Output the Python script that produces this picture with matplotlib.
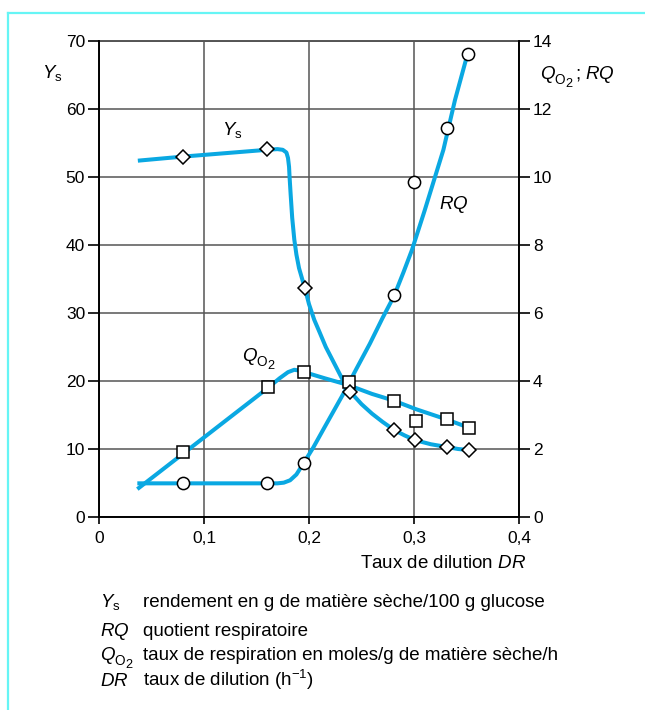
import matplotlib
matplotlib.use("Agg")
import matplotlib.pyplot as plt
from matplotlib.lines import Line2D
from matplotlib.transforms import offset_copy

plt.rcParams['font.family'] = ['Liberation Sans', 'DejaVu Sans']
plt.rcParams['mathtext.fontset'] = 'custom'
plt.rcParams['mathtext.rm'] = 'Liberation Sans'
plt.rcParams['mathtext.it'] = 'Liberation Sans:italic'
plt.rcParams['mathtext.bf'] = 'Liberation Sans:bold'

# ---------------- data ----------------
x_ticks = [0, 0.1, 0.2, 0.3, 0.4]
x_tick_labels = ['0', '0,1', '0,2', '0,3', '0,4']
left_ticks = [0, 10, 20, 30, 40, 50, 60, 70]
right_ticks = [0, 2, 4, 6, 8, 10, 12, 14]

# Ys measured points (left axis)
ys_pts_x = [0.08, 0.16, 0.196, 0.239, 0.281, 0.301, 0.331, 0.352]
ys_pts_y = [53.0, 54.1, 33.7, 18.4, 12.8, 11.3, 10.3, 9.85]
# Ys fitted curve (left axis)
ys_curve_x = [0.037, 0.08, 0.16, 0.170, 0.175, 0.1785, 0.1800, 0.1810, 0.1815, 0.1825,
              0.1840, 0.1860, 0.1880, 0.1905, 0.1935, 0.196, 0.200, 0.205, 0.210, 0.216,
              0.222, 0.228, 0.234, 0.240, 0.250, 0.260, 0.270, 0.281, 0.291, 0.301,
              0.316, 0.331, 0.342, 0.352]
ys_curve_y = [52.4, 53.0, 54.0, 54.1, 54.0, 53.6, 52.8, 51.5, 50.0, 47.5,
              44.0, 40.8, 38.6, 36.6, 35.0, 33.7, 31.3, 29.0, 27.2, 25.0,
              23.2, 21.4, 19.6, 18.3, 16.6, 15.2, 14.0, 12.8, 12.0, 11.3,
              10.7, 10.3, 10.0, 9.85]

# QO2 measured points (right axis)
qo2_pts_x = [0.08, 0.161, 0.195, 0.238, 0.281, 0.302, 0.331, 0.352]
qo2_pts_y = [1.9, 3.81, 4.26, 3.96, 3.42, 2.83, 2.87, 2.63]
# QO2 fitted curve (right axis)
qo2_curve_x = [0.0365, 0.161, 0.172, 0.180, 0.186, 0.192, 0.200, 0.215, 0.232,
               0.240, 0.260, 0.281, 0.302, 0.331, 0.352]
qo2_curve_y = [0.82, 3.80, 4.08, 4.26, 4.33, 4.30, 4.22, 4.08, 3.93,
               3.85, 3.62, 3.42, 3.17, 2.87, 2.63]

# RQ measured points (right axis)
rq_pts_x = [0.08, 0.16, 0.195, 0.281, 0.300, 0.331, 0.351]
rq_pts_y = [1.0, 1.0, 1.59, 6.53, 9.85, 11.44, 13.62]
# RQ fitted curve (right axis)
rq_curve_x = [0.0365, 0.170, 0.176, 0.182, 0.188, 0.195, 0.204, 0.215, 0.225, 0.233,
              0.245, 0.258, 0.270, 0.281, 0.290, 0.298, 0.310, 0.320, 0.328, 0.339, 0.351]
rq_curve_y = [0.99, 0.99, 1.01, 1.08, 1.25, 1.59, 2.04, 2.65, 3.20, 3.64,
              4.35, 5.10, 5.85, 6.50, 7.20, 7.85, 9.00, 10.00, 10.80, 12.26, 13.62]

legend_texts = ['rendement en g de matière sèche/100 g glucose',
                'quotient respiratoire',
                'taux de respiration en moles/g de matière sèche/h',
                r'taux de dilution (h$^{-1}$)']

# ---------------- figure ----------------
W, H = 645, 710
fig = plt.figure(figsize=(W / 100, H / 100), dpi=100)

blue = '#0aa8e2'
lw = 2.9
fs = 13.5      # text size
fst = 12.5     # tick label size

ax = fig.add_axes([99 / W, 1 - 517 / H, 420 / W, 476 / H])
ax2 = ax.twinx()

ax.set_xlim(0, 0.4)
ax.set_ylim(0, 70)
ax2.set_ylim(0, 14)

ax.set_xticks(x_ticks)
ax.set_xticklabels(x_tick_labels, fontsize=fst)
ax.set_yticks(left_ticks)
ax.set_yticklabels([str(t) for t in left_ticks], fontsize=fst)
ax2.set_yticks(right_ticks)
ax2.set_yticklabels([str(t) for t in right_ticks], fontsize=fst)

ax.tick_params(axis='x', direction='out', length=5, width=1.2, pad=5, colors='black')
ax.tick_params(axis='y', direction='out', length=8, width=1.2, pad=2, colors='black')
ax2.tick_params(axis='y', direction='out', length=8, width=1.2, pad=2, colors='black')

for a in (ax, ax2):
    a.spines['top'].set_visible(False)
    for s in ('left', 'right', 'bottom'):
        a.spines[s].set_linewidth(1.2)
        a.spines[s].set_color('black')

ax.grid(True, color='#555555', linewidth=1.1)
ax.set_axisbelow(True)
ax.axhline(70, color='#555555', linewidth=1.4, clip_on=False, zorder=0.5)

# curves
ax2.plot(ys_curve_x, ys_curve_y, color=blue, lw=lw, solid_joinstyle='round',
         solid_capstyle='butt', transform=ax.transData, zorder=2)
ax2.plot(qo2_curve_x, qo2_curve_y, color=blue, lw=lw, solid_joinstyle='round',
         solid_capstyle='butt', zorder=2)
ax2.plot(rq_curve_x, rq_curve_y, color=blue, lw=lw, solid_joinstyle='round',
         solid_capstyle='butt', zorder=2)

# markers
mk = dict(linestyle='none', markerfacecolor='white', markeredgecolor='black',
          markeredgewidth=1.1)
ax2.plot(rq_pts_x, rq_pts_y, marker='o', markersize=8.8, zorder=3, **mk)
ax2.plot(qo2_pts_x, qo2_pts_y, marker='s', markersize=8.6, zorder=3, **mk)
ax2.plot(ys_pts_x, ys_pts_y, marker='D', markersize=7.6, zorder=4,
         transform=ax.transData, **mk)


def draw_qo2(holder, x, y, trans, size, tail=None):
    """Q (italic) with subscript O and sub-subscript 2, left/baseline anchored."""
    s2 = size * 0.72
    holder.text(x, y, 'Q', style='italic', fontsize=size, ha='left', va='baseline',
                transform=trans, zorder=5)
    dx1 = 0.76 * size
    holder.text(x, y, 'O', fontsize=s2, ha='left', va='baseline', zorder=5,
                transform=offset_copy(trans, fig=fig, x=dx1, y=-0.28 * size, units='points'))
    dx2 = dx1 + 0.80 * s2
    holder.text(x, y, '2', fontsize=s2 * 0.95, ha='left', va='baseline', zorder=5,
                transform=offset_copy(trans, fig=fig, x=dx2, y=-0.45 * size, units='points'))
    if tail is not None:
        dx3 = dx2 + 0.56 * s2 + 0.15 * size
        holder.text(x, y, tail, fontsize=size, ha='left', va='baseline', zorder=5,
                    transform=offset_copy(trans, fig=fig, x=dx3, y=0, units='points'))


# in-plot labels
ax.text(0.127, 56.9, r'$Y_\mathrm{s}$', fontsize=fs, ha='center', va='center', zorder=5)
draw_qo2(fig, 242 / W, 1 - 361 / H, fig.transFigure, fs)
ax.text(0.338, 45.9, r'$RQ$', fontsize=fs, ha='center', va='center', zorder=5)

# axis titles
fig.text(52 / W, 1 - 73 / H, r'$Y_\mathrm{s}$', fontsize=fs, ha='center', va='center')
draw_qo2(fig, 540 / W, 1 - 79 / H, fig.transFigure, fs, tail=r'; $RQ$')
fig.text(526 / W, 1 - 563 / H, r'Taux de dilution $DR$', fontsize=fs, ha='right', va='center')

# legend block
rows_base = [607, 636, 660, 686]
fig.text(100 / W, 1 - rows_base[0] / H, r'$Y_\mathrm{s}$', fontsize=fs, ha='left', va='baseline')
fig.text(100 / W, 1 - rows_base[1] / H, r'$RQ$', fontsize=fs, ha='left', va='baseline')
draw_qo2(fig, 100 / W, 1 - rows_base[2] / H, fig.transFigure, fs)
fig.text(100 / W, 1 - rows_base[3] / H, r'$DR$', fontsize=fs, ha='left', va='baseline')
for txt, yy in zip(legend_texts, rows_base):
    fig.text(143 / W, 1 - yy / H, txt, fontsize=fs, ha='left', va='baseline')

# frame lines (cyan)
cyan = '#66f5f5'
fig.add_artist(Line2D([8 / W, 1.0], [1 - 13 / H, 1 - 13 / H], color=cyan, lw=1.6,
                      transform=fig.transFigure))
fig.add_artist(Line2D([8 / W, 8 / W], [1 - 13 / H, 0.0], color=cyan, lw=1.6,
                      transform=fig.transFigure))

fig.savefig('out.png', dpi=100)
